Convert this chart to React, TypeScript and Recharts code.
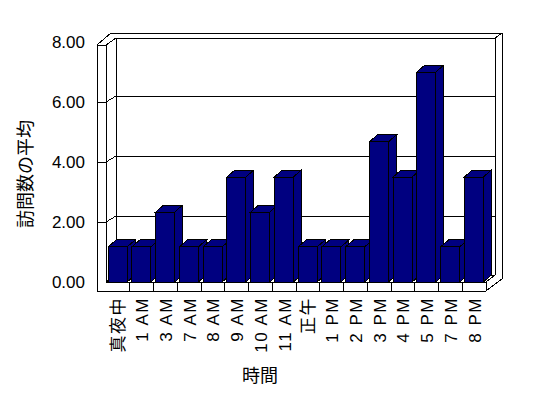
import { BarChart, Bar, XAxis, YAxis, CartesianGrid } from 'recharts';

const hours = [
  '真夜中', '1 AM', '3 AM', '7 AM', '8 AM', '9 AM', '10 AM', '11 AM',
  '正午', '1 PM', '2 PM', '3 PM', '4 PM', '5 PM', '7 PM', '8 PM',
];
const avgVisits = [
  1.17, 1.17, 2.33, 1.17, 1.17, 3.5, 2.33, 3.5,
  1.17, 1.17, 1.17, 4.67, 3.5, 7.0, 1.17, 3.5,
];
const yTicks = [0, 2, 4, 6, 8];
const xTitle = '時間';
const yTitle = '訪問数の平均';

const data = hours.map((h, i) => ({ hour: h, visits: avgVisits[i] }));

const W = 548;
const H = 398;
// front plane of the plot
const LEFT = 106;
const RIGHT = 486;
const TOP = 42;
const BOTTOM = 282;
// wall slab + depth
const SLAB = 97;
const WDX = 10;
const WDY = -6;
// bar depth
const BDX = 8;
const BDY = -7;
const NAVY = '#000080';
const FONT = '"Liberation Sans", Arial, "Noto Sans CJK JP", sans-serif';

const Bar3D = (props: any) => {
  const { x, y, width, height } = props;
  if (width == null || height == null) return null;
  const r = x + width;
  const b = y + height;
  return (
    <g stroke='#000' strokeWidth={1} fill={NAVY} shapeRendering='crispEdges'>
      <polygon points={`${r},${y} ${r + BDX},${y + BDY} ${r + BDX},${b + BDY} ${r},${b}`} />
      <polygon points={`${x},${y} ${x + BDX},${y + BDY} ${r + BDX},${y + BDY} ${r},${y}`} />
      <rect x={x} y={y} width={width} height={height} />
    </g>
  );
};

const GridLine = (props: any) => {
  const { y1, x1, x2 } = props;
  if (Math.abs(y1 - TOP) < 1 || Math.abs(y1 - BOTTOM) < 1) return <g key={props.key} />;
  return (
    <path
      key={props.key}
      d={`M${SLAB},${y1} H${x1} L${x1 + WDX},${y1 + WDY} H${x2 + WDX - 1}`}
      stroke='#000'
      fill='none'
      shapeRendering='crispEdges'
    />
  );
};

const HourTick = (props: any) => {
  const { x, payload } = props;
  const band = (RIGHT - LEFT) / hours.length;
  const last = payload.index === hours.length - 1;
  const ty = BOTTOM + 15;
  return (
    <g>
      {!last && (
        <line x1={x + band / 2} x2={x + band / 2} y1={BOTTOM} y2={BOTTOM + 9} stroke='#000' shapeRendering='crispEdges' />
      )}
      <text
        x={x + 1}
        y={ty}
        transform={`rotate(-90, ${x + 1}, ${ty})`}
        textAnchor='end'
        dominantBaseline='central'
        fontSize={17}
        letterSpacing={1.5}
        fontFamily={FONT}
        fill='#000'
      >
        {payload.value}
      </text>
    </g>
  );
};

const Walls = () => (
  <svg width={W} height={H} style={{ position: 'absolute', left: 0, top: 0 }}>
    <g stroke='#000' fill='none' shapeRendering='crispEdges'>
      <line x1={SLAB} y1={TOP + 3} x2={SLAB} y2={BOTTOM + 9} />
      <line x1={LEFT} y1={TOP + 3} x2={LEFT} y2={BOTTOM} />
      <line x1={SLAB} y1={TOP + 3} x2={LEFT} y2={TOP + 3} />
      <line x1={SLAB} y1={TOP + 3} x2={111} y2={33} />
      <line x1={LEFT} y1={TOP + 3} x2={LEFT + WDX} y2={38} />
      <line x1={111} y1={33} x2={502} y2={33} />
      <line x1={LEFT + WDX} y1={38} x2={495} y2={38} />
      <line x1={LEFT + WDX} y1={38} x2={LEFT + WDX} y2={275} />
      <line x1={495} y1={38} x2={495} y2={275} />
      <line x1={502} y1={33} x2={502} y2={279} />
      <line x1={495} y1={38} x2={502} y2={33} />
      <line x1={LEFT + WDX} y1={275} x2={495} y2={275} />
      <line x1={LEFT} y1={BOTTOM} x2={LEFT + WDX} y2={275} />
      <line x1={LEFT} y1={BOTTOM} x2={RIGHT} y2={BOTTOM} />
      <line x1={SLAB} y1={BOTTOM + 9} x2={RIGHT} y2={BOTTOM + 9} />
      <line x1={RIGHT} y1={BOTTOM} x2={RIGHT} y2={BOTTOM + 9} />
      <line x1={RIGHT} y1={BOTTOM} x2={495} y2={275} />
      <line x1={RIGHT} y1={BOTTOM + 9} x2={502} y2={279} />
    </g>
    <text
      x={26}
      y={174}
      transform='rotate(-90, 26, 174)'
      textAnchor='middle'
      dominantBaseline='central'
      fontSize={18}
      fontFamily={FONT}
    >
      {yTitle}
    </text>
    <text x={260} y={376} textAnchor='middle' dominantBaseline='central' fontSize={18} fontFamily={FONT}>
      {xTitle}
    </text>
  </svg>
);

export default function App() {
  return (
    <div style={{ position: 'absolute', left: 0, top: 0, width: W, height: H, background: '#fff' }}>
      <Walls />
      <div style={{ position: 'absolute', left: 0, top: 0 }}>
        <BarChart
          width={W}
          height={H}
          data={data}
          margin={{ top: TOP, right: W - RIGHT, bottom: 16, left: 66 }}
          barCategoryGap='9%'
        >
          <CartesianGrid vertical={false} horizontal={GridLine} />
          <XAxis
            dataKey='hour'
            interval={0}
            height={100}
            axisLine={false}
            tickLine={false}
            tick={HourTick}
          />
          <YAxis
            width={40}
            domain={[0, 8]}
            ticks={yTicks}
            tickFormatter={(v: number) => v.toFixed(2)}
            axisLine={false}
            tickLine={false}
            tickMargin={15}
            tick={{ fontSize: 17, fill: '#000', fontFamily: FONT }}
          />
          <Bar dataKey='visits' isAnimationActive={false} shape={Bar3D} />
        </BarChart>
      </div>
    </div>
  );
}
